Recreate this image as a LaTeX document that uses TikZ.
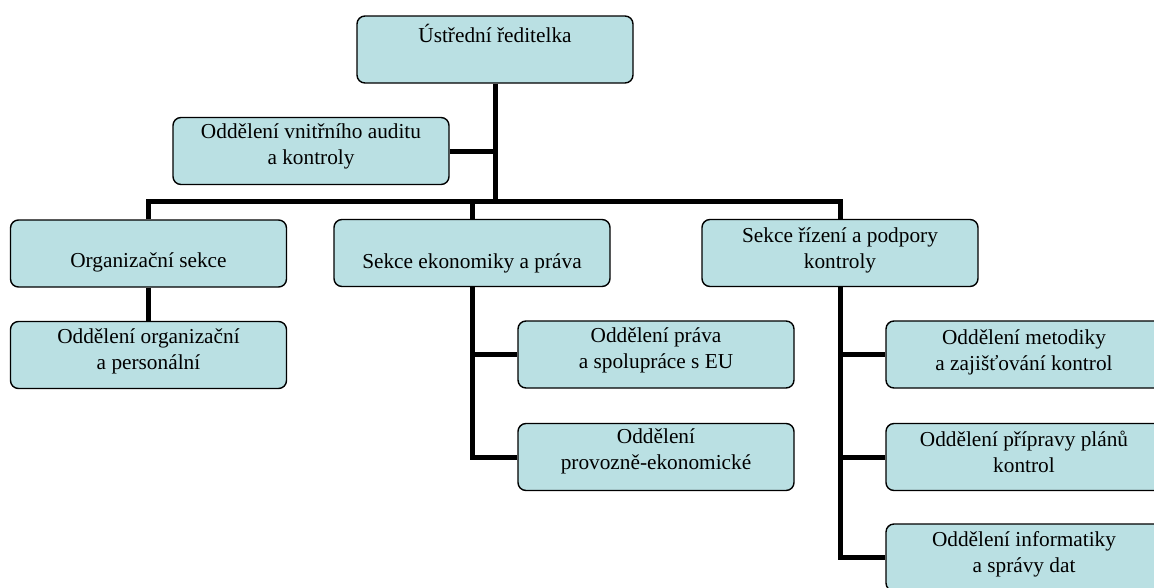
\documentclass[tikz,border=0pt]{standalone}
\usepackage{fontspec}
\setmainfont{Liberation Serif}
\newfontfamily\lserif{Liberation Serif}
\usetikzlibrary{backgrounds}
\definecolor{boxfill}{RGB}{186,224,227}
\tikzset{
  box/.style={draw, rounded corners=8pt, line width=1.4pt, fill=boxfill,
    minimum width=276pt, minimum height=67pt, inner sep=0pt},
  lbl/.style={font=\lserif\fontsize{21.3}{26}\selectfont, align=center, inner sep=0pt},
  conn/.style={line width=5pt, line join=miter}
}
\begin{document}
\begin{tikzpicture}[x=1pt,y=-1pt]
\useasboundingbox (0,0) rectangle (1154,587);
% boxes
\node[box] (top) at (495,49.5) {};
\node[box] (audit) at (311,151) {};
\node[box] (org) at (148.5,253.5) {};
\node[box] (orgsub) at (148.5,355) {};
\node[box] (mid) at (472,253) {};
\node[box] (midA) at (656,354.5) {};
\node[box] (midB) at (656,457) {};
\node[box] (right) at (840,253) {};
\node[box] (rA) at (1024,354.5) {};
\node[box] (rB) at (1024,457) {};
\node[box] (rC) at (1024,557.5) {};
% labels
\node[lbl] (ttop) at (495,33) {Ústřední ředitelka};
\node[lbl] (taudit) at (311,146.5) {Oddělení vnitřního auditu\\a kontroly};
\node[lbl] (torg) at (148.5,262) {Organizační sekce};
\node[lbl] (torgsub) at (148.5,351) {Oddělení organizační\\a personální};
\node[lbl] (tmid) at (472,263) {Sekce ekonomiky a práva};
\node[lbl] (tmidA) at (656,350.5) {Oddělení práva\\a spolupráce s EU};
\node[lbl] (tmidB) at (656,451.5) {Oddělení\\provozně-ekonomické};
\node[lbl] (tright) at (840,250) {Sekce řízení a podpory\\kontroly};
\node[lbl] (trA) at (1024,352.5) {Oddělení metodiky\\a zajišťování kontrol};
\node[lbl] (trB) at (1024,451.5) {Oddělení přípravy plánů\\kontrol};
\node[lbl] (trC) at (1024,554.5) {Oddělení informatiky\\a správy dat};
\coordinate (hub) at (495,201);
% connectors
\begin{scope}[on background layer]
\draw[conn] (top.south) -- (top.south |- hub);
\draw[conn] (audit.east) -- (audit.east -| top.south);
\draw[conn] (org.north) -- (org.north |- hub) -- (right.north |- hub) -- (right.north);
\draw[conn] (mid.north) -- (mid.north |- hub);
\draw[conn] (org.south) -- (orgsub.north);
\draw[conn] (mid.south) -- (mid.south |- midB.west) -- (midB.west);
\draw[conn] (mid.south |- midA.west) -- (midA.west);
\draw[conn] (right.south) -- (right.south |- rC.west) -- (rC.west);
\draw[conn] (right.south |- rA.west) -- (rA.west);
\draw[conn] (right.south |- rB.west) -- (rB.west);
\end{scope}
\end{tikzpicture}
\end{document}
